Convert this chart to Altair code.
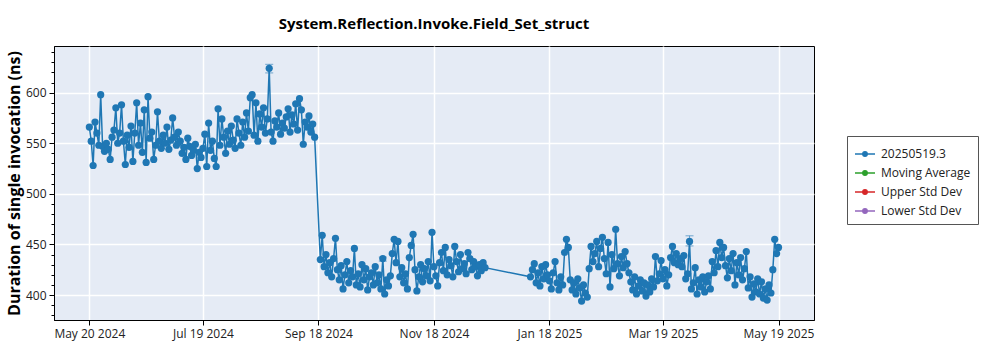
import altair as alt
import pandas as pd

# ---- data (one value per day) ----
seg_a_start = "2024-05-20"
values_a = [
    566, 552, 528, 571, 560, 548, 598, 547, 542, 550,
    544, 534, 556, 563, 585, 550, 560, 588, 552, 529,
    558, 546, 567, 532, 560, 590, 548, 570, 541, 583,
    531, 596, 555, 561, 534, 548, 581, 552, 545, 558,
    550, 566, 544, 553, 575, 556, 548, 561, 552, 540,
    546, 534, 555, 547, 538, 543, 549, 525, 541, 536,
    545, 559, 527, 570, 543, 552, 535, 527, 584, 548,
    574, 556, 540, 562, 549, 567, 553, 545, 574, 560,
    548, 571, 556, 580, 562, 595, 598, 558, 590, 552,
    579, 566, 585, 560, 574, 624, 561, 552, 572, 566,
    580, 559, 570, 565, 576, 584, 561, 578, 569, 589,
    563, 594, 583, 549, 571, 566, 577, 561, 569, 556,
]
seg_b_start = "2024-09-19"
values_b = [
    435, 459, 428, 440, 422, 432, 418, 436, 456, 425,
    415, 429, 406, 420, 433, 412, 424, 418, 446, 410,
    421, 408, 430, 415, 426, 405, 418, 422, 410, 428,
    412, 420, 406, 436, 401, 415, 409, 419, 441, 455,
    432, 453, 418, 427, 412, 421, 406, 437, 449, 460,
    425, 404, 418, 430, 413, 426, 419, 433, 414, 462,
    428, 419, 409, 432, 442, 424, 447, 420, 435, 429,
    418, 448, 433, 423, 440, 426, 431, 421, 442, 436,
    425, 433, 428, 419, 430, 424, 432, 427,
]
seg_c_start = "2025-01-08"
values_c = [
    418, 425, 431, 412, 422, 409, 428, 416, 430, 420,
    414, 406, 422, 433, 412, 405, 418, 410, 442, 455,
    447, 415, 405, 412, 401, 416, 407, 394, 410, 402,
    398, 426, 448, 433, 441, 453, 428, 446, 457, 436,
    421, 452, 408, 440, 426, 465, 431, 419, 438, 427,
    443, 431, 422, 413, 405, 418, 401, 409, 415, 404,
    412, 399, 410, 403, 416, 408, 438, 414, 421, 434,
    416, 425, 409, 420, 437, 448, 432, 441, 430, 436,
    428, 439, 416, 421, 453, 406, 412, 427, 401, 415,
    408, 418, 403, 413, 419, 406, 433, 422, 444, 428,
    452, 437, 447, 429, 417, 436, 424, 441, 410, 432,
    420, 437, 415, 426, 443, 407, 418, 398, 411, 403,
    416, 401, 413, 397, 406, 395, 410, 402, 425, 455,
    441, 447,
]

err_dates = ["2024-08-23", "2025-04-02", "2024-10-22"]
err_lo = [619.5, 448.5, 433.5]
err_hi = [628.0, 458.5, 437.5]

series_names = ["20250519.3", "Moving Average", "Upper Std Dev", "Lower Std Dev"]
series_colors = ["#1f77b4", "#2ca02c", "#d62728", "#9467bd"]

x_ticks = ["2024-05-20", "2024-07-19", "2024-09-18", "2024-11-18",
           "2025-01-18", "2025-03-19", "2025-05-19"]
y_ticks = [400, 450, 500, 550, 600]
y_minor = [380, 390, 410, 420, 430, 440, 460, 470, 480, 490,
           510, 520, 530, 540, 560, 570, 580, 590, 610, 620, 630, 640]

y_domain = [375.3, 646.1]

title_text = "System.Reflection.Invoke.Field_Set_struct"
y_title = "Duration of single invocation (ns)"

# ---- tables ----
def seg(start, vals):
    d = pd.date_range(start, periods=len(vals), freq="D").strftime("%Y-%m-%d")
    return pd.DataFrame({"date": list(d), "value": vals})

df = pd.concat([seg(seg_a_start, values_a), seg(seg_b_start, values_b),
                seg(seg_c_start, values_c)], ignore_index=True)
df["series"] = series_names[0]
err_df = pd.DataFrame({"date": err_dates, "lo": err_lo, "hi": err_hi})
minor_df = pd.DataFrame({"v": y_minor})


def dt(s):
    y, m, d = s.split("-")
    return alt.DateTime(year=int(y), month=int(m), date=int(d), utc=True)


xdom = [alt.DateTime(year=2024, month=5, date=1, hours=8, utc=True),
        alt.DateTime(year=2025, month=6, date=6, hours=18, utc=True)]

FONT = "Open Sans"
x_axis = alt.Axis(values=[dt(s) for s in x_ticks], format="%b %d %Y",
                  labelFontSize=12, labelColor="#222",
                  labelFont=FONT, tickSize=5, tickColor="#000",
                  domainColor="#000", grid=True, gridColor="white",
                  gridWidth=1.5, labelPadding=3, labelOverlap=False, title=None)
x_scale = alt.Scale(type="utc", domain=xdom)
y_scale = alt.Scale(domain=y_domain, nice=False, zero=False)
y_axis = alt.Axis(values=y_ticks, title=y_title, titleFontSize=16,
                  titleFont=FONT, titleFontWeight="bold", titleColor="#000",
                  titlePadding=3, labelFontSize=12, labelColor="#222",
                  labelFont=FONT, tickSize=5, tickColor="#000",
                  domainColor="#000", grid=True, gridColor="white",
                  gridWidth=1.5, labelPadding=3, orient="left")

sc = alt.Scale(domain=series_names, range=series_colors)
leg = alt.Legend(title=None, orient="none", legendX=793, legendY=90,
                 symbolType="M-1,0H1M-0.22,0A0.22,0.22,0,1,1,0.22,0A0.22,0.22,0,1,1,-0.22,0Z",
                 symbolSize=400, symbolStrokeWidth=1.5, labelFontSize=12,
                 labelFont=FONT, labelColor="#222", fillColor="white",
                 strokeColor="#555", padding=7, rowPadding=2, labelOffset=5)

base = alt.Chart(df)
line = base.mark_line(strokeWidth=1.5).encode(
    x=alt.X("date:T", scale=x_scale, axis=x_axis),
    y=alt.Y("value:Q", scale=y_scale, axis=y_axis),
    stroke=alt.Stroke("series:N", scale=sc, legend=leg))
pts = base.mark_point(filled=True, size=52, opacity=1).encode(
    x=alt.X("date:T", scale=x_scale, axis=x_axis),
    y=alt.Y("value:Q", scale=y_scale, axis=y_axis),
    fill=alt.Fill("series:N", scale=sc, legend=leg))

err = alt.Chart(err_df).mark_errorbar(ticks=alt.MarkConfig(size=8), color="#1f77b4",
                                      opacity=0.6).encode(
    x=alt.X("date:T", scale=x_scale, axis=x_axis),
    y=alt.Y("lo:Q", scale=y_scale, axis=y_axis), y2="hi:Q")

minor = alt.Chart(minor_df).mark_tick(opacity=0).encode(
    y=alt.Y("v:Q", scale=y_scale,
            axis=alt.Axis(values=y_minor, labels=False, title=None, tickSize=3,
                          tickColor="#000", domain=False, grid=False, orient="left")))

main = alt.layer(line, pts, err)

chart = alt.layer(main, minor).resolve_axis(y="independent").properties(
    width=760, height=274,
    title=alt.TitleParams(title_text, fontSize=15, font=FONT, fontWeight="bold",
                          color="#000", anchor="middle", offset=14),
    autosize=alt.AutoSizeParams(type="none"),
    padding={"left": 54, "top": 46, "right": 186, "bottom": 30},
).configure(background="white").configure_view(
    stroke="#000", strokeWidth=1, fill="#e5ebf5")

chart.save("out.html", embed_options={"renderer": "svg", "actions": False})
